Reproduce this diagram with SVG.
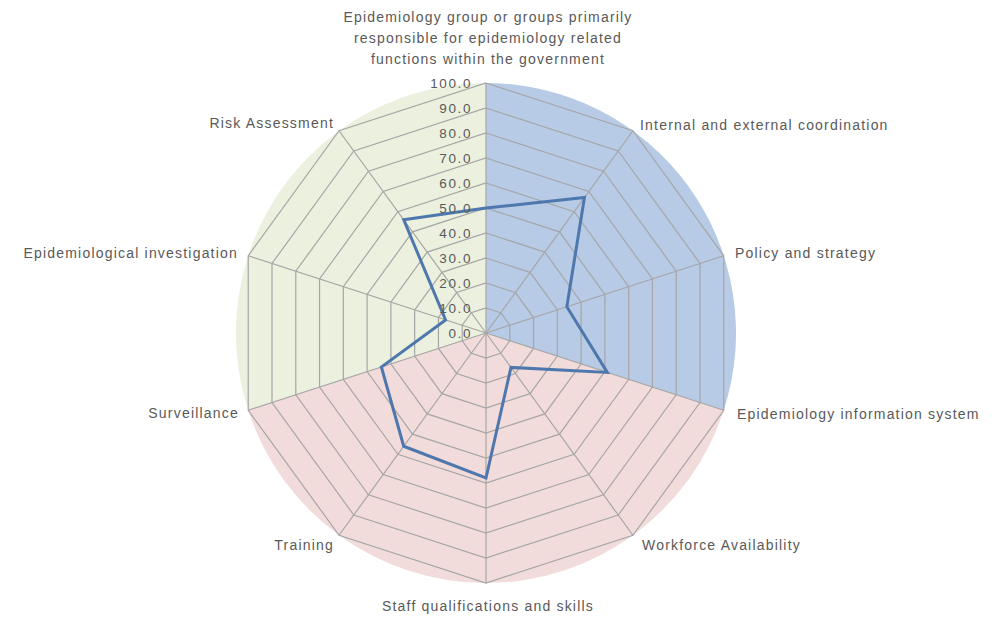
<svg xmlns="http://www.w3.org/2000/svg" width="1000" height="617" viewBox="0 0 1000 617">
<style>
.lbl{font-family:"Liberation Sans",Arial,sans-serif;font-size:14px;letter-spacing:1.2px;fill:#595959}
.tick{font-family:"Liberation Sans",Arial,sans-serif;font-size:13.5px;letter-spacing:1.6px;fill:#595959;text-anchor:end}
.ring{fill:none;stroke:#a6a6a6;stroke-width:1.2}
.spoke{stroke:#a6a6a6;stroke-width:1.2}
</style>
<rect width="1000" height="617" fill="#ffffff"/>
<g id="chart" transform="translate(486,333)">
  <g id="sectors">
    <path d="M0,0 L0,-250 A250,250 0 0 1 237.76,77.25 Z" fill="#b7cbe6"/>
    <path d="M0,0 L237.76,77.25 A250,250 0 0 1 -237.76,77.25 Z" fill="#f2dcdb"/>
    <path d="M0,0 L-237.76,77.25 A250,250 0 0 1 0,-250 Z" fill="#ebf1de"/>
  </g>
  <g id="grid">
    <polygon class="ring" points="0,-25 14.70,-20.23 23.78,-7.73 23.78,7.73 14.70,20.23 0,25 -14.70,20.23 -23.78,7.73 -23.78,-7.73 -14.70,-20.23"/>
    <polygon class="ring" points="0,-50 29.39,-40.45 47.55,-15.45 47.55,15.45 29.39,40.45 0,50 -29.39,40.45 -47.55,15.45 -47.55,-15.45 -29.39,-40.45"/>
    <polygon class="ring" points="0,-75 44.09,-60.68 71.33,-23.18 71.33,23.18 44.09,60.68 0,75 -44.09,60.68 -71.33,23.18 -71.33,-23.18 -44.09,-60.68"/>
    <polygon class="ring" points="0,-100 58.78,-80.90 95.11,-30.90 95.11,30.90 58.78,80.90 0,100 -58.78,80.90 -95.11,30.90 -95.11,-30.90 -58.78,-80.90"/>
    <polygon class="ring" points="0,-125 73.48,-101.13 118.89,-38.63 118.89,38.63 73.48,101.13 0,125 -73.48,101.13 -118.89,38.63 -118.89,-38.63 -73.48,-101.13"/>
    <polygon class="ring" points="0,-150 88.17,-121.35 142.67,-46.35 142.67,46.35 88.17,121.35 0,150 -88.17,121.35 -142.67,46.35 -142.67,-46.35 -88.17,-121.35"/>
    <polygon class="ring" points="0,-175 102.87,-141.58 166.44,-54.08 166.44,54.08 102.87,141.58 0,175 -102.87,141.58 -166.44,54.08 -166.44,-54.08 -102.87,-141.58"/>
    <polygon class="ring" points="0,-200 117.56,-161.80 190.22,-61.80 190.22,61.80 117.56,161.80 0,200 -117.56,161.80 -190.22,61.80 -190.22,-61.80 -117.56,-161.80"/>
    <polygon class="ring" points="0,-225 132.26,-182.03 214.00,-69.53 214.00,69.53 132.26,182.03 0,225 -132.26,182.03 -214.00,69.53 -214.00,-69.53 -132.26,-182.03"/>
    <polygon class="ring" points="0,-250 146.95,-202.25 237.76,-77.25 237.76,77.25 146.95,202.25 0,250 -146.95,202.25 -237.76,77.25 -237.76,-77.25 -146.95,-202.25"/>
    <line class="spoke" x1="0" y1="0" x2="0" y2="-250"/>
    <line class="spoke" x1="0" y1="0" x2="146.95" y2="-202.25"/>
    <line class="spoke" x1="0" y1="0" x2="237.76" y2="-77.25"/>
    <line class="spoke" x1="0" y1="0" x2="237.76" y2="77.25"/>
    <line class="spoke" x1="0" y1="0" x2="146.95" y2="202.25"/>
    <line class="spoke" x1="0" y1="0" x2="0" y2="250"/>
    <line class="spoke" x1="0" y1="0" x2="-146.95" y2="202.25"/>
    <line class="spoke" x1="0" y1="0" x2="-237.76" y2="77.25"/>
    <line class="spoke" x1="0" y1="0" x2="-237.76" y2="-77.25"/>
    <line class="spoke" x1="0" y1="0" x2="-146.95" y2="-202.25"/>
  </g>
  <g id="series">
    <polygon points="0,-125 98.46,-135.51 80.84,-26.27 121.27,39.40 24.98,34.38 0,145 -82.29,113.26 -104.62,33.99 -40.42,-13.13 -82.29,-113.26" fill="none" stroke="#4e78ad" stroke-width="3" stroke-linejoin="miter"/>
  </g>
</g>
<g id="ticks">
  <text class="tick" x="472" y="338">0.0</text>
  <text class="tick" x="472" y="313">10.0</text>
  <text class="tick" x="472" y="288">20.0</text>
  <text class="tick" x="472" y="263">30.0</text>
  <text class="tick" x="472" y="238">40.0</text>
  <text class="tick" x="472" y="213">50.0</text>
  <text class="tick" x="472" y="188">60.0</text>
  <text class="tick" x="472" y="163">70.0</text>
  <text class="tick" x="472" y="138">80.0</text>
  <text class="tick" x="472" y="113">90.0</text>
  <text class="tick" x="472" y="88">100.0</text>
</g>
<g id="labels">
  <g id="n-top"><text class="lbl" x="488" y="22" text-anchor="middle">Epidemiology group or groups primarily</text>
  <text class="lbl" x="488" y="43" text-anchor="middle">responsible for epidemiology related</text>
  <text class="lbl" x="488" y="64" text-anchor="middle">functions within the government</text></g>
  <g id="n-internal"><text class="lbl" x="640" y="130">Internal and external coordination</text></g>
  <g id="n-policy"><text class="lbl" x="735" y="258">Policy and strategy</text></g>
  <g id="n-info"><text class="lbl" x="737" y="419">Epidemiology information system</text></g>
  <g id="n-workforce"><text class="lbl" x="642" y="550">Workforce Availability</text></g>
  <g id="n-staff"><text class="lbl" x="488" y="611" text-anchor="middle">Staff qualifications and skills</text></g>
  <g id="n-training"><text class="lbl" x="334" y="550" text-anchor="end">Training</text></g>
  <g id="n-surv"><text class="lbl" x="239" y="418" text-anchor="end">Surveillance</text></g>
  <g id="n-epiinv"><text class="lbl" x="238" y="258" text-anchor="end">Epidemiological investigation</text></g>
  <g id="n-risk"><text class="lbl" x="334" y="128" text-anchor="end">Risk Assessment</text></g>
</g>
</svg>
